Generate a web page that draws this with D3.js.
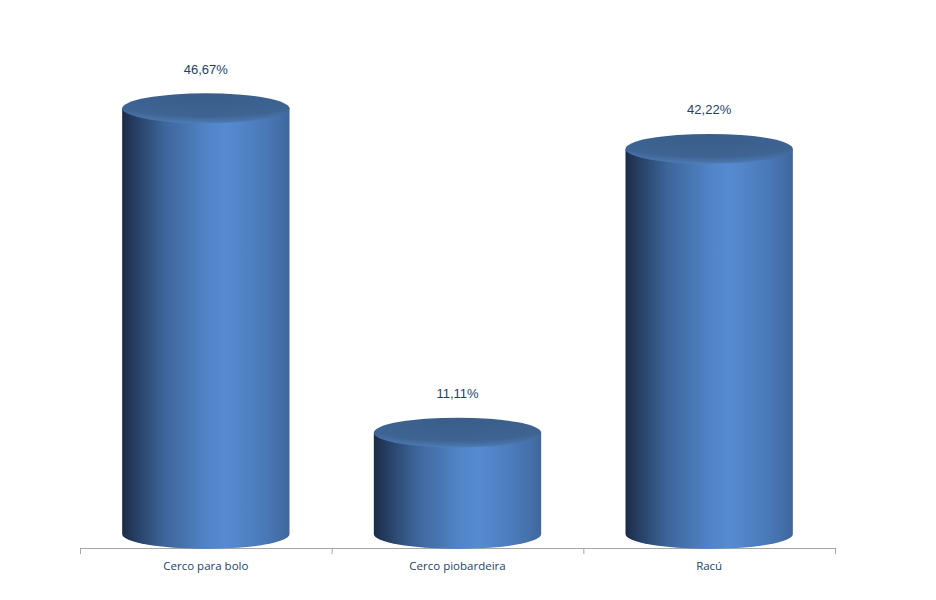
<!DOCTYPE html>
<html><head><meta charset="utf-8">
<script src="https://cdn.jsdelivr.net/npm/d3@7"></script>
<style>body{margin:0;background:#fff}</style>
</head><body>
<svg id="c" width="936" height="600"></svg>
<script>
const categories = ["Cerco para bolo", "Cerco piobardeira", "Racú"];
const values = [46.67, 11.11, 42.22];
const valueLabels = ["46,67%", "11,11%", "42,22%"];

const svg = d3.select("#c");
const x = d3.scaleBand().domain(categories).range([80, 835]).padding(0);
const y = d3.scaleLinear().domain([0, 50]).range([534, 78]);
const bw = x.bandwidth() * 0.665;
const rx = bw / 2, ry = 15;

const defs = svg.append("defs");
const sideG = defs.append("linearGradient").attr("id", "sideG").attr("x1", "0").attr("x2", "1").attr("y1", "0").attr("y2", "0");
[[0, "#1b2b44"], [0.08, "#263f64"], [0.25, "#3d6599"], [0.5, "#5183c6"], [0.62, "#568bd2"], [0.85, "#4a79b8"], [1, "#3f679e"]]
  .forEach(([o, c]) => sideG.append("stop").attr("offset", o).attr("stop-color", c));
const topG = defs.append("radialGradient").attr("id", "topG").attr("cx", "0.5").attr("cy", "0.2").attr("r", "0.85").attr("fx", "0.5").attr("fy", "0.1");
[[0, "#3a5d8a"], [0.7, "#3e6493"], [0.9, "#4a77ae"], [1, "#5a8ccc"]]
  .forEach(([o, c]) => topG.append("stop").attr("offset", o).attr("stop-color", c));

// axis
svg.append("line").attr("x1", 80).attr("x2", 835).attr("y1", 548.5).attr("y2", 548.5).attr("stroke", "#a6a6a6");
const ticks = [...categories.map(c => x(c)), x(categories[categories.length - 1]) + x.bandwidth()];
svg.selectAll("line.tk").data(ticks).join("line").attr("class", "tk")
  .attr("x1", d => d + 0.5).attr("x2", d => d + 0.5).attr("y1", 548).attr("y2", 554).attr("stroke", "#a6a6a6");

const g = svg.selectAll("g.bar").data(categories.map((c, i) => ({c, v: values[i], l: valueLabels[i]}))).join("g").attr("class", "bar");
g.append("path").attr("fill", "url(#sideG)").attr("d", d => {
  const cx = x(d.c) + x.bandwidth() / 2, l = cx - rx, r = cx + rx, t = y(d.v), b = y(0);
  return `M${l},${t} L${l},${b} A${rx},${ry} 0 0 0 ${r},${b} L${r},${t} Z`;
});
g.append("ellipse").attr("fill", "url(#topG)")
  .attr("cx", d => x(d.c) + x.bandwidth() / 2).attr("cy", d => y(d.v)).attr("rx", rx).attr("ry", ry);
g.append("text").text(d => d.l)
  .attr("x", d => x(d.c) + x.bandwidth() / 2).attr("y", d => y(d.v) - 38)
  .attr("text-anchor", "middle").attr("dominant-baseline", "middle")
  .attr("font-family", "Liberation Sans, Arial, sans-serif").attr("font-size", 13).attr("fill", "#243f66");

svg.selectAll("text.cat").data(categories).join("text").attr("class", "cat").text(d => d)
  .attr("x", d => x(d) + x.bandwidth() / 2).attr("y", 567)
  .attr("text-anchor", "middle").attr("dominant-baseline", "middle")
  .attr("font-family", "Open Sans, sans-serif").attr("font-size", 11.5).attr("fill", "#243f66");
</script>
</body></html>
